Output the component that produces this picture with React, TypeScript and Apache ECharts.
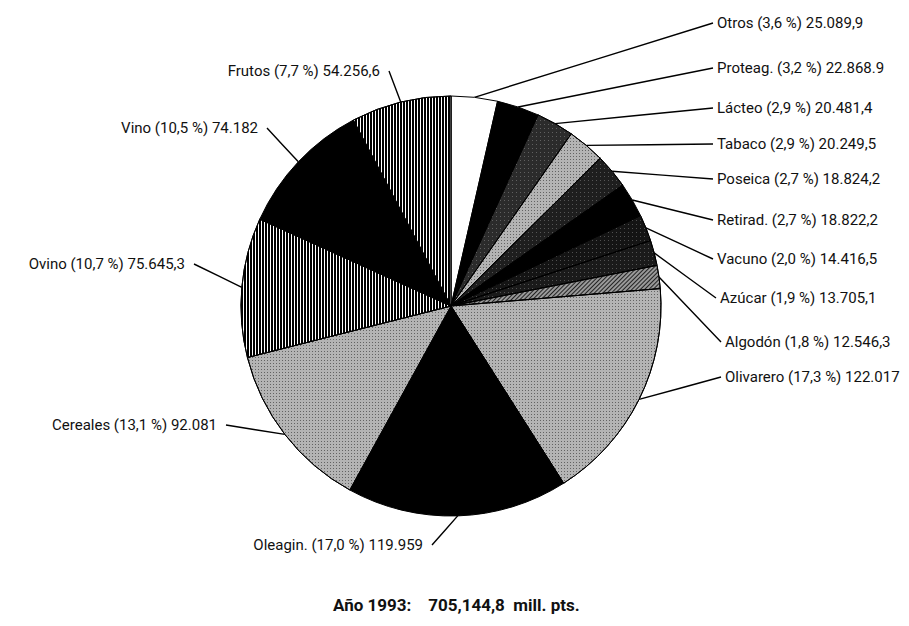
import React, { useEffect, useRef } from 'react';
import * as echarts from 'echarts';

// ---- Data ----
const categories = ['Otros', 'Proteag.', 'Lácteo', 'Tabaco', 'Poseica', 'Retirad.', 'Vacuno', 'Azúcar', 'Algodón', 'Olivarero', 'Oleagin.', 'Cereales', 'Ovino', 'Vino', 'Frutos'];
const values = [25089.9, 22868.9, 20481.4, 20249.5, 18824.2, 18822.2, 14416.5, 13705.1, 12546.3, 122017, 119959, 92081, 75645.3, 74182, 54256.6];
const valueLabels = ['25.089,9', '22.868.9', '20.481,4', '20.249,5', '18.824,2', '18.822,2', '14.416,5', '13.705,1', '12.546,3', '122.017', '119.959', '92.081', '75.645,3', '74.182', '54.256,6'];
const titleText = 'Año 1993:\u00a0\u00a0\u00a0\u00a0705,144,8\u00a0\u00a0mill. pts.';

// ---- Layout & styles ----
const labelPos: [number, number, 'left' | 'right'][] = [
  [717, 23, 'left'],
  [717, 68, 'left'],
  [717, 108, 'left'],
  [717, 144, 'left'],
  [717, 179, 'left'],
  [717, 220, 'left'],
  [717, 259, 'left'],
  [720, 298, 'left'],
  [725, 342, 'left'],
  [725, 377, 'left'],
  [423, 545, 'right'],
  [217, 425, 'right'],
  [185, 264, 'right'],
  [258, 128, 'right'],
  [380, 71, 'right'],
];

const stripes = { color: '#fff', decal: { symbol: 'rect', symbolSize: 1, color: '#000', dashArrayX: [1, 0], dashArrayY: [2, 1], rotation: Math.PI / 2 } };
const stipple = { color: '#b4b4b4', decal: { symbol: 'rect', symbolSize: 1, color: 'rgba(0,0,0,0.45)', dashArrayX: [1, 2], dashArrayY: [1, 2] } };
const darkDots = (c: string) => ({ color: c, decal: { symbol: 'rect', symbolSize: 1, color: 'rgba(255,255,255,0.25)', dashArrayX: [1, 3], dashArrayY: [1, 3] } });
const hatch = { color: '#999999', decal: { symbol: 'rect', symbolSize: 1, color: '#222', dashArrayX: [1, 0], dashArrayY: [1, 2], rotation: -Math.PI / 4 } };
const solid = (c: string) => ({ color: c });

const sliceStyles: any[] = [
  solid('#ffffff'), // Otros
  solid('#000000'), // Proteag.
  darkDots('#2b2b2b'), // Lácteo
  stipple, // Tabaco
  darkDots('#1e1e1e'), // Poseica
  solid('#000000'), // Retirad.
  darkDots('#141414'), // Vacuno
  darkDots('#1a1a1a'), // Azúcar
  hatch, // Algodón
  stipple, // Olivarero
  solid('#000000'), // Oleagin.
  stipple, // Cereales
  stripes, // Ovino
  solid('#000000'), // Vino
  stripes, // Frutos
];

const FONT = 'Roboto, "Noto Sans", sans-serif';

export default function App() {
  const ref = useRef<HTMLDivElement>(null);
  useEffect(() => {
    document.body.style.margin = '0';
    const chart = echarts.init(ref.current!, null, { renderer: 'svg' });
    const data = categories.map((name, i) => ({
      name,
      value: values[i],
      itemStyle: { ...sliceStyles[i], borderColor: '#000', borderWidth: 1 },
    }));
    chart.setOption({
      animation: false,
      backgroundColor: '#ffffff',
      title: {
        text: titleText,
        left: 333,
        top: 596,
        padding: 0,
        textStyle: { fontFamily: FONT, fontWeight: 'bold', fontSize: 17, color: '#111' },
      },
      series: [
        {
          type: 'pie',
          center: [451, 306],
          radius: 210,
          startAngle: 90,
          clockwise: true,
          silent: true,
          avoidLabelOverlap: false,
          data,
          label: {
            show: true,
            position: 'outside',
            color: '#111',
            fontFamily: FONT,
            fontSize: 15,
            formatter: (p: any) => `${p.name} (${Number(p.percent).toFixed(1).replace('.', ',')} %) ${valueLabels[p.dataIndex]}`,
          },
          labelLine: { show: true, length: 10, length2: 10, lineStyle: { color: '#000', width: 1.4 } },
          labelLayout: (params: any) => {
            const [x, y, align] = labelPos[params.dataIndex];
            const p0 = params.labelLinePoints ? params.labelLinePoints[0] : [x, y];
            const ex = align === 'left' ? x - 4 : x + 9;
            return {
              x,
              y,
              align,
              verticalAlign: 'middle',
              labelLinePoints: [p0, [(p0[0] + ex) / 2, (p0[1] + y) / 2], [ex, y]],
            };
          },
        },
      ],
    });
    return () => chart.dispose();
  }, []);
  return <div ref={ref} style={{ width: 909, height: 626 }} />;
}
